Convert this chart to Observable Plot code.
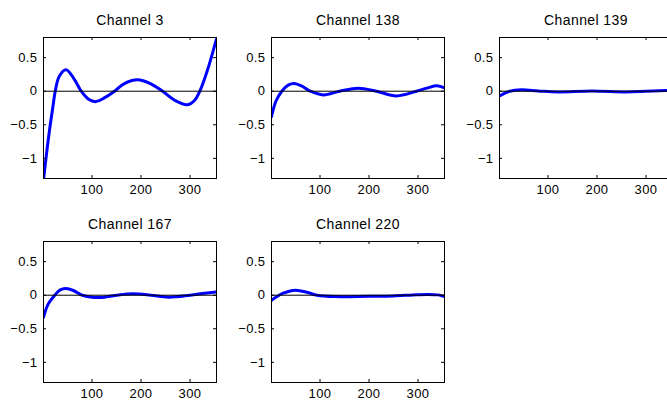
<!DOCTYPE html>
<html><head><meta charset="utf-8">
<script src="https://cdn.jsdelivr.net/npm/d3@7"></script>
<script src="https://cdn.jsdelivr.net/npm/@observablehq/plot@0.6"></script>
<style>
body{margin:0;background:#fff;overflow:hidden}
#wrap{position:relative;width:667px;height:400px;overflow:hidden;background:#fff}
.panel{position:absolute}
.panel svg{max-width:none !important}
</style></head><body><div id="wrap"></div>
<script>
// Panel titles, in grid order (row by row)
const titles = ["Channel 3", "Channel 138", "Channel 139", "Channel 167", "Channel 220"];

// Values (x sample, y value)
const ch3x   = [1, 8, 14, 20, 25, 33, 47, 62, 78, 93, 108, 125, 146, 165, 193, 220, 244, 270, 295, 310, 320, 335, 354];
const ch3y   = [-1.32, -0.88, -0.54, -0.24, 0, 0.22, 0.32, 0.2, 0, -0.12, -0.155, -0.1, 0, 0.11, 0.17, 0.11, 0, -0.14, -0.2, -0.13, 0, 0.3, 0.78];
const ch138x = [1, 10, 22, 35, 47, 62, 80, 107, 140, 178, 215, 256, 297, 320, 338, 354];
const ch138y = [-0.38, -0.15, 0, 0.09, 0.115, 0.08, 0, -0.055, 0, 0.045, 0, -0.07, 0, 0.05, 0.08, 0.05];
const ch139x = [1, 10, 22, 45, 80, 120, 190, 260, 300, 340, 354];
const ch139y = [-0.07, -0.035, 0, 0.02, 0.005, -0.01, 0.005, -0.01, 0, 0.01, 0.015];
const ch167x = [1, 10, 24, 35, 47, 62, 80, 116, 150, 184, 220, 256, 300, 330, 354];
const ch167y = [-0.33, -0.14, 0, 0.08, 0.1, 0.07, 0, -0.035, 0, 0.02, 0, -0.03, 0, 0.03, 0.05];
const ch220x = [1, 12, 25, 50, 75, 94, 130, 200, 250, 290, 320, 340, 354];
const ch220y = [-0.075, -0.02, 0.03, 0.075, 0.04, 0, -0.02, -0.015, -0.01, 0.005, 0.012, 0.005, -0.02];

// Axis settings
const xDomain = [1, 354];
const yDomain = [-1.3, 0.8];
const xTicks = [100, 200, 300];
const yTicks = [-1, -0.5, 0, 0.5];

const series = [[ch3x, ch3y], [ch138x, ch138y], [ch139x, ch139y], [ch167x, ch167y], [ch220x, ch220y]];

// Layout
const FW = 173, FH = 141;            // frame size
const ML = 43, MT = 37, MR = 10, MB = 20;
const colStep = 228, rowStep = 204;
const fmt = d => String(d).replace("-", "\u2212");

const wrap = document.getElementById("wrap");
series.forEach(([xs, ys], i) => {
  const data = xs.map((x, k) => ({x, y: ys[k]}));
  const W = ML + FW + MR, H = MT + FH + MB;
  const chart = Plot.plot({
    width: W,
    height: H,
    marginLeft: ML, marginTop: MT, marginRight: MR, marginBottom: MB,
    style: {fontFamily: "'Liberation Sans', Arial, sans-serif", fontSize: "13px", background: "white", color: "black", letterSpacing: "0.4px", maxWidth: "none"},
    x: {domain: xDomain, label: null},
    y: {domain: yDomain, label: null},
    marks: [
      Plot.line(data, {x: "x", y: "y", stroke: "#0000ff", strokeWidth: 3, curve: "catmull-rom", clip: true}),
      Plot.ruleY([0], {stroke: "black", strokeWidth: 1}),
      Plot.frame({stroke: "black", strokeWidth: 1}),
      Plot.tickX(xTicks, {x: d => d, insetTop: FH - 3, stroke: "black"}),
      Plot.tickX(xTicks, {x: d => d, insetBottom: FH - 3, stroke: "black"}),
      Plot.tickY(yTicks, {y: d => d, insetRight: FW - 3, stroke: "black"}),
      Plot.tickY(yTicks, {y: d => d, insetLeft: FW - 3, stroke: "black"}),
      Plot.axisX(xTicks, {tickSize: 0, tickPadding: 6, tickFormat: fmt, label: null}),
      Plot.axisY(yTicks, {tickSize: 0, tickPadding: 6, tickFormat: fmt, label: null}),
      Plot.text([titles[i]], {text: d => d, frameAnchor: "top", dy: -13, lineAnchor: "bottom", fontSize: 14})
    ]
  });
  const div = document.createElement("div");
  div.className = "panel";
  div.style.left = ((i % 3) * colStep) + "px";
  div.style.top = (Math.floor(i / 3) * rowStep) + "px";
  div.style.width = W + "px";
  div.style.height = H + "px";
  div.appendChild(chart);
  wrap.appendChild(div);
});
</script>
</body></html>
